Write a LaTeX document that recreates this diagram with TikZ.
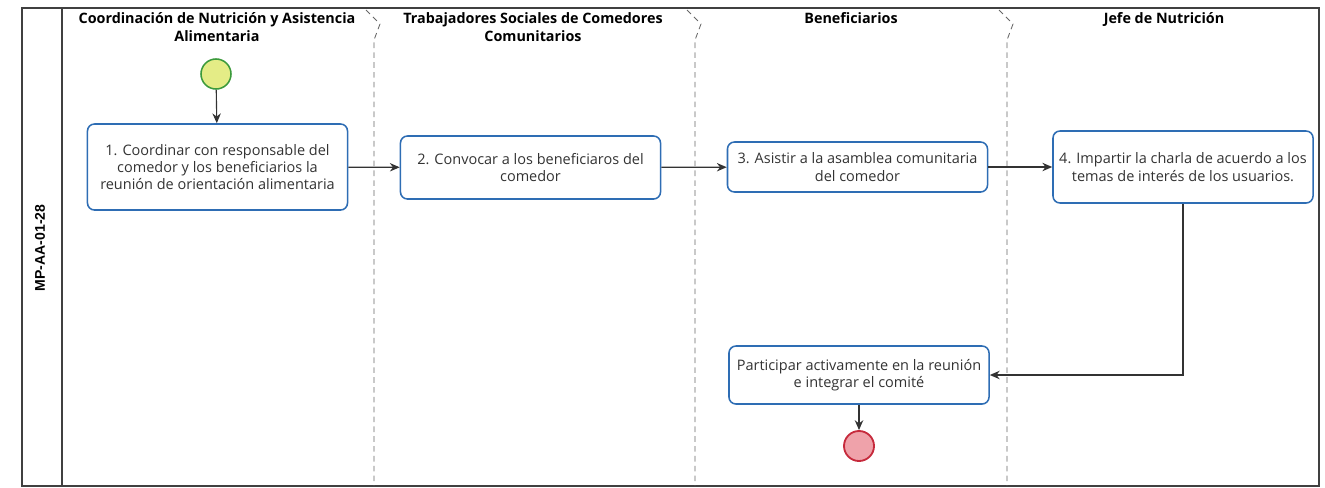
\documentclass[tikz,border=0pt]{standalone}
\usepackage{fontspec}
\setmainfont{Open Sans}
\newfontfamily\codefont{Liberation Sans}
\usetikzlibrary{arrows.meta}
\definecolor{taskblue}{HTML}{2E6DB4}
\definecolor{startfill}{HTML}{E4EC86}
\definecolor{startdraw}{HTML}{3C9A3C}
\definecolor{endfill}{HTML}{EFA2AA}
\definecolor{enddraw}{HTML}{C62A3C}
\begin{document}
\begin{tikzpicture}[x=0.025cm, y=-0.025cm,
        task/.style={rectangle, rounded corners=5pt, draw=taskblue, line width=1.1pt, fill=white, text=black!80, font=\fontsize{10.3}{12.3}\selectfont, align=center, minimum width=6.5cm},
        start/.style={circle, draw=startdraw, fill=startfill, line width=1.1pt, minimum size=0.75cm},
        finish/.style={circle, draw=enddraw, fill=endfill, line width=1.3pt, minimum size=0.75cm},
        header/.style={font=\bfseries\fontsize{10.2}{12.3}\selectfont, align=center, anchor=north},
        frame/.style={draw=black!75, line width=0.8pt},
        lane/.style={draw=black!60, line width=0.6pt, dash pattern=on 4pt off 3pt},
        flow/.style={-{Stealth[length=7pt, width=6pt]}, black!80, line width=0.8pt}
    ]
    \useasboundingbox (0,0) rectangle (1325,487);
    % pool and lanes
    \draw[frame] (22,8) rectangle (1319,486);
    \draw[frame] (62,8) -- (62,486);
    \foreach \lx in {374,695,1007}
        \draw[lane] (\lx-8,10) -- (\lx+6,24) -- (\lx,40) -- (\lx,486);
    \node[font=\codefont\bfseries\fontsize{10}{11}\selectfont, rotate=90] (code) at (40,248) {MP-AA-01-28};
    \node[header] (h1) at (217,8) {Coordinación de Nutrición y Asistencia\\Alimentaria};
    \node[header] (h2) at (533,8) {Trabajadores Sociales de Comedores\\Comunitarios};
    \node[header] (h3) at (851,8) {Beneficiarios};
    \node[header] (h4) at (1164,8) {Jefe de Nutrición};
    % events and tasks
    \node[start] (s) at (216,74) {};
    \node[task, minimum height=2.15cm] (t1) at (217.5,167) {1. Coordinar con responsable del\\comedor y los beneficiarios la\\reunión de orientación alimentaria};
    \node[task, minimum height=1.575cm] (t2) at (530.5,167.5) {2. Convocar a los beneficiaros del\\comedor};
    \node[task, minimum height=1.25cm] (t3) at (857.5,167) {3. Asistir a la asamblea comunitaria\\del comedor};
    \node[task, minimum height=1.8cm] (t4) at (1183,167) {4. Impartir la charla de acuerdo a los\\temas de interés de los usuarios.};
    \node[task, minimum height=1.45cm] (t5) at (859,375) {Participar activamente en la reunión\\e integrar el comité};
    \node[finish] (e) at (859,446) {};
    % flows
    \draw[flow] (s) -- (t1);
    \draw[flow] (t1) -- (t2);
    \draw[flow] (t2) -- (t3);
    \draw[flow] (t3) -- (t4);
    \draw[flow] (t4.south) |- (t5.east);
    \draw[flow] (t5) -- (e);
\end{tikzpicture}
\end{document}
